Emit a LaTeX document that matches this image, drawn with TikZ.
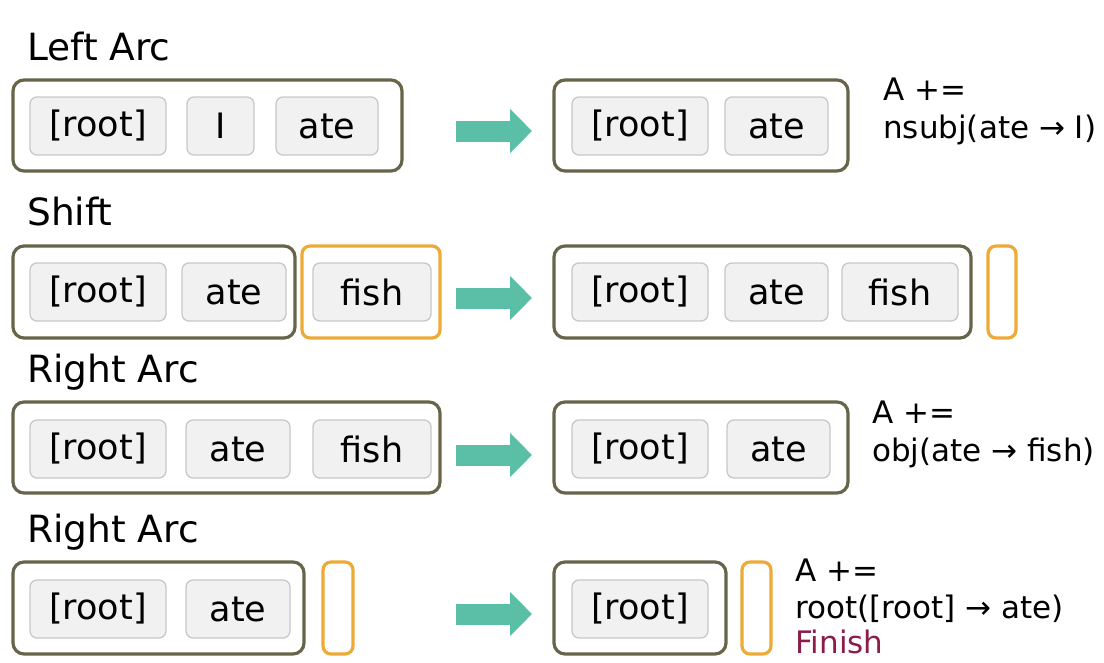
\documentclass[tikz,border=0pt]{standalone}
\usepackage{fontspec}
\setmainfont{DejaVu Sans}
\usetikzlibrary{arrows.meta}
\definecolor{olivebox}{HTML}{66654A}
\definecolor{orangebox}{HTML}{EEAA36}
\definecolor{wordfill}{HTML}{F1F1F1}
\definecolor{wordline}{HTML}{C8C8C8}
\definecolor{tealarrow}{HTML}{5BBFA7}
\definecolor{finishcol}{HTML}{8A1D4A}
\tikzset{
  outerbox/.style={draw=olivebox, line width=3.2pt, rounded corners=11pt, inner sep=0pt, outer sep=0pt},
  orbox/.style={draw=orangebox, line width=3.2pt, rounded corners=8pt, inner sep=0pt, outer sep=0pt},
  word/.style={draw=wordline, fill=wordfill, line width=1.3pt, rounded corners=7pt, inner sep=0pt, outer sep=0pt,
    minimum height=58pt, font=\fontsize{35}{40}\selectfont},
  title/.style={anchor=base west, inner sep=0pt, font=\fontsize{37.5}{42}\selectfont},
  annot/.style={anchor=base west, inner sep=0pt, font=\fontsize{31}{36}\selectfont},
  bigarrow/.style={draw=tealarrow, line width=21pt, line cap=butt, -{Triangle[length=22pt,width=43pt]}, tealarrow}
}
\begin{document}
\begin{tikzpicture}[x=1pt,y=-1pt]
\useasboundingbox (0,0) rectangle (1104,662);
\fill[white] (0,0) rectangle (1104,662);

% ---------- Row 1: Left Arc ----------
\node[title] (t1) at (27,60) {Left Arc};
\node[outerbox, minimum width=389pt, minimum height=91pt] (L1) at (207.5,125.5) {};
\node[word, minimum width=136pt] (L1a) at (98,126) {[root]};
\node[word, minimum width=67pt] (L1b) at (220.5,126) {I};
\node[word, minimum width=102pt] (L1c) at (327,126) {ate};
\coordinate (a1s) at (456,131);
\coordinate (a1e) at (532,131);
\draw[bigarrow] (a1s) -- (a1e);
\node[outerbox, minimum width=294pt, minimum height=91pt] (R1) at (701,125.5) {};
\node[word, minimum width=136pt] (R1a) at (640,126) {[root]};
\node[word, minimum width=103pt] (R1b) at (776.5,126) {ate};
\node[annot] (n1a) at (883,100) {A +=};
\node[annot] (n1b) at (883,138) {nsubj(ate → I)};

% ---------- Row 2: Shift ----------
\node[title] (t2) at (27,225) {Shift};
\node[outerbox, minimum width=282pt, minimum height=92pt] (L2) at (154,292) {};
\node[word, minimum width=136pt] (L2a) at (98,292) {[root]};
\node[word, minimum width=104pt] (L2b) at (234,292) {ate};
\node[orbox, minimum width=138pt, minimum height=92pt] (B2) at (371,292) {};
\node[word, minimum width=118pt] (B2a) at (372,292) {fish};
\coordinate (a2s) at (456,298);
\coordinate (a2e) at (532,298);
\draw[bigarrow] (a2s) -- (a2e);
\node[outerbox, minimum width=417pt, minimum height=92pt] (R2) at (762.5,292) {};
\node[word, minimum width=136pt] (R2a) at (640,292) {[root]};
\node[word, minimum width=103pt] (R2b) at (776.5,292) {ate};
\node[word, minimum width=116pt] (R2c) at (900,292) {fish};
\node[orbox, minimum width=28pt, minimum height=92pt] (RB2) at (1002,292) {};

% ---------- Row 3: Right Arc ----------
\node[title] (t3) at (27,382) {Right Arc};
\node[outerbox, minimum width=427pt, minimum height=91pt] (L3) at (226.5,447.5) {};
\node[word, minimum width=136pt] (L3a) at (98,449) {[root]};
\node[word, minimum width=104pt] (L3b) at (238,449) {ate};
\node[word, minimum width=118pt] (L3c) at (372,449) {fish};
\coordinate (a3s) at (456,455);
\coordinate (a3e) at (532,455);
\draw[bigarrow] (a3s) -- (a3e);
\node[outerbox, minimum width=294pt, minimum height=91pt] (R3) at (701,447.5) {};
\node[word, minimum width=136pt] (R3a) at (640,449) {[root]};
\node[word, minimum width=103pt] (R3b) at (778.5,449) {ate};
\node[annot] (n3a) at (872,423) {A +=};
\node[annot] (n3b) at (872,461) {obj(ate → fish)};

% ---------- Row 4: Right Arc ----------
\node[title] (t4) at (27,542) {Right Arc};
\node[outerbox, minimum width=291pt, minimum height=92pt] (L4) at (158.5,608) {};
\node[word, minimum width=136pt] (L4a) at (98,609) {[root]};
\node[word, minimum width=104pt] (L4b) at (238,609) {ate};
\node[orbox, minimum width=30pt, minimum height=92pt] (LB4) at (338,608) {};
\coordinate (a4s) at (456,614);
\coordinate (a4e) at (532,614);
\draw[bigarrow] (a4s) -- (a4e);
\node[outerbox, minimum width=172pt, minimum height=92pt] (R4) at (640,608) {};
\node[word, minimum width=136pt] (R4a) at (640,609) {[root]};
\node[orbox, minimum width=29pt, minimum height=92pt] (RB4) at (756.5,608) {};
\node[annot] (n4a) at (795,581) {A +=};
\node[annot] (n4b) at (795,618) {root([root] → ate)};
\node[annot, text=finishcol] (n4c) at (795,653) {Finish};
\end{tikzpicture}
\end{document}
